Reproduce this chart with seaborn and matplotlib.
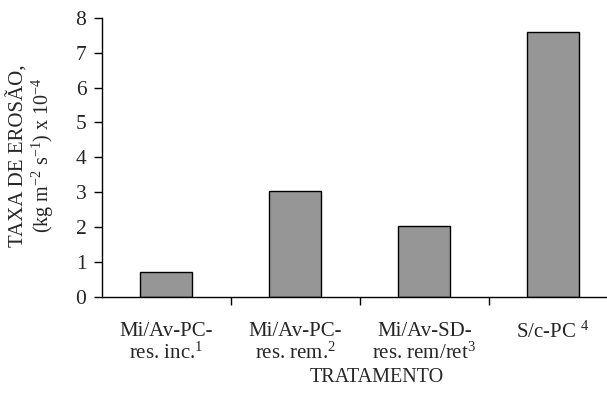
import matplotlib
matplotlib.use("Agg")
import matplotlib.pyplot as plt
import pandas as pd
import seaborn as sns

# values
tratamentos = ["Mi/Av-PC-\nres. inc.$^{1}$", "Mi/Av-PC-\nres. rem.$^{2}$",
               "Mi/Av-SD-\nres. rem/ret$^{3}$", "S/c-PC $^{4}$"]
taxa = [0.72, 3.04, 2.03, 7.58]
yticks = [0, 1, 2, 3, 4, 5, 6, 7, 8]

sns.set_theme(style="ticks")
plt.rcParams["font.family"] = ["Liberation Serif", "DejaVu Serif"]
plt.rcParams["mathtext.fontset"] = "custom"
plt.rcParams["mathtext.rm"] = "Liberation Serif"
plt.rcParams["mathtext.it"] = "Liberation Serif:italic"

df = pd.DataFrame({"Tratamento": tratamentos, "Taxa": taxa})

fig = plt.figure(figsize=(6.07, 4.03), dpi=100)
ax = fig.add_axes([101.7 / 607, 106 / 403, 516 / 607, 279.3 / 403])

sns.barplot(data=df, x="Tratamento", y="Taxa", color="#969696", saturation=1,
            width=0.40, edgecolor="black", linewidth=1.0, ax=ax)

ax.set_ylim(0, 8)
ax.set_xlim(-0.5, 3.5)
ax.set_yticks(yticks)
ax.set_yticklabels([str(t) for t in yticks], fontsize=15.5)
ax.tick_params(axis="y", direction="out", length=6, width=1, color="black", pad=5)
ax.tick_params(axis="x", which="major", length=0, pad=18, labelsize=15)
ax.set_xticks([0.5, 1.5, 2.5], minor=True)
ax.tick_params(axis="x", which="minor", direction="out", length=6, width=1, color="black")
for lab in ax.get_xticklabels():
    lab.set_linespacing(1.1)

sns.despine(ax=ax, top=True, right=True)
for s in ["left", "bottom"]:
    ax.spines[s].set_color("black")
    ax.spines[s].set_linewidth(1)

ax.set_xlabel("")
ax.set_ylabel("")
fig.text(377 / 607, 1 - 377 / 403, "TRATAMENTO", ha="center", va="center", fontsize=14.5)
fig.text(18 / 607, 1 - 156 / 403, "TAXA DE EROSÃO,", rotation=90,
         ha="center", va="center", fontsize=15)
fig.text(43 / 607, 1 - 155 / 403, "(kg m$^{-2}$ s$^{-1}$) x 10$^{-4}$", rotation=90,
         ha="center", va="center", fontsize=14.5)

fig.savefig("out.png", dpi=100)
